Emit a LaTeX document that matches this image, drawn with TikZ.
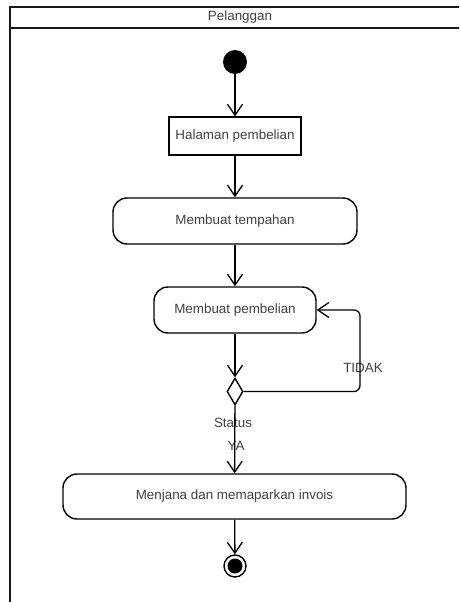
\documentclass[tikz,border=0pt]{standalone}
\usepackage{fontspec}
\setmainfont{Liberation Sans}
\usetikzlibrary{arrows.meta,shapes.geometric}
\begin{document}
\begin{tikzpicture}[x=1pt,y=-1pt,
  every node/.style={font=\fontsize{13.4}{16}\selectfont, text=black!75},
  lane/.style={line width=1.8pt, draw=black!90},
  rectbox/.style={draw, line width=1.2pt, rectangle, inner sep=0pt},
  actbox/.style={draw, line width=1.4pt, rectangle, rounded corners=14pt, inner sep=0pt},
  flow/.style={line width=1.3pt, -{Straight Barb[length=11pt,width=15pt,line width=1.3pt]}},
  lbl/.style={inner sep=0pt}
]
\useasboundingbox (0,0) rectangle (459,602);
\clip (0,0) rectangle (459,602);
% swimlane
\draw[lane] (470,7) -- (10,7) -- (10,620);
\draw[lane] (10,28) -- (470,28);
\node[lbl] (title) at (240,17.5) {Pelanggan};
% nodes
\node[circle, fill=black, minimum size=24pt, inner sep=0pt] (start) at (235,62) {};
\node[rectbox, minimum width=132pt, minimum height=38pt] (halaman) at (235,136) {Halaman pembelian};
\node[actbox, minimum width=244pt, minimum height=46pt] (tempahan) at (235,221) {Membuat tempahan};
\node[actbox, minimum width=162pt, minimum height=46pt] (pembelian) at (235,310) {Membuat pembelian};
\node[diamond, draw, line width=1.4pt, minimum width=16pt, minimum height=27pt, inner sep=0pt] (dec) at (235,391.5) {};
\node[actbox, minimum width=343pt, minimum height=45pt] (menjana) at (234.5,496.5) {Menjana dan memaparkan invois};
\node[circle, draw, line width=1.4pt, minimum size=22pt, inner sep=0pt] (end) at (235,566) {};
\node[circle, fill=black, minimum size=15pt, inner sep=0pt] (endin) at (end) {};
% labels
\node[lbl] (status) at (233,423) {Status};
\node[lbl] (ya) at (236,446) {YA};
\node[lbl] (tidak) at (363,368) {TIDAK};
% connectors
\draw[flow] (start) -- (halaman);
\draw[flow] (halaman) -- (tempahan);
\draw[flow] (tempahan) -- (pembelian);
\draw[flow] (pembelian) -- (dec);
\draw[flow] (dec) -- (menjana);
\draw[flow] (menjana) -- (end);
\coordinate (loopc) at (360,391.5);
\draw[flow, rounded corners=6pt] (dec.east) -- (loopc) |- (pembelian.east);
\end{tikzpicture}
\end{document}
